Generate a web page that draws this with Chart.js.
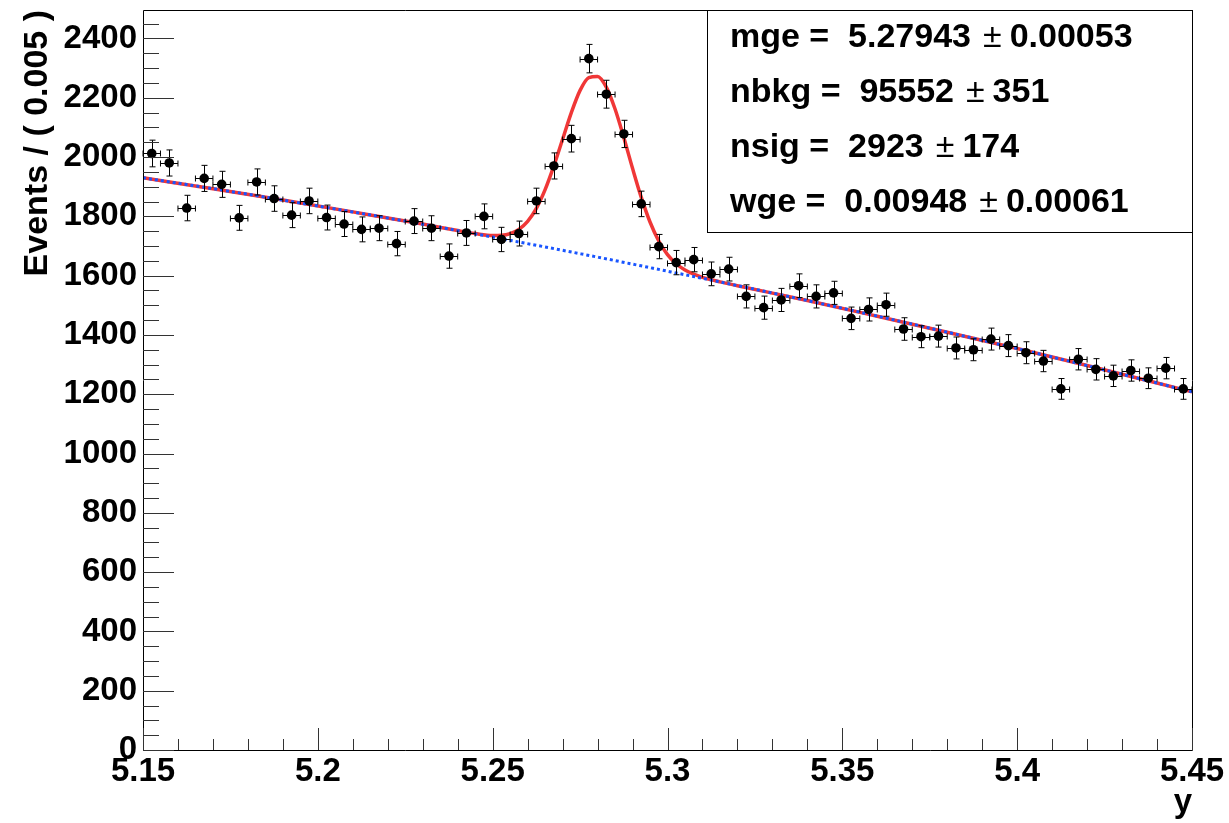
<!DOCTYPE html>
<html><head><meta charset="utf-8">
<script src="https://cdn.jsdelivr.net/npm/chart.js@4.4.1/dist/chart.umd.min.js"></script>
<style>html,body{margin:0;padding:0;background:#fff;overflow:hidden}</style>
</head><body>
<canvas id="c" width="1229" height="823" style="display:block"></canvas>
<script>
// ---- data ----
const binCenters = [
 5.1525,5.1575,5.1625,5.1675,5.1725,5.1775,5.1825,5.1875,5.1925,5.1975,
 5.2025,5.2075,5.2125,5.2175,5.2225,5.2275,5.2325,5.2375,5.2425,5.2475,
 5.2525,5.2575,5.2625,5.2675,5.2725,5.2775,5.2825,5.2875,5.2925,5.2975,
 5.3025,5.3075,5.3125,5.3175,5.3225,5.3275,5.3325,5.3375,5.3425,5.3475,
 5.3525,5.3575,5.3625,5.3675,5.3725,5.3775,5.3825,5.3875,5.3925,5.3975,
 5.4025,5.4075,5.4125,5.4175,5.4225,5.4275,5.4325,5.4375,5.4425,5.4475];
const counts = [
 2012,1980,1828,1928,1908,1795,1916,1860,1804,1852,
 1796,1774,1756,1760,1708,1784,1760,1666,1744,1800,
 1722,1742,1852,1970,2062,2332,2212,2078,1842,1698,
 1644,1654,1606,1622,1530,1492,1518,1566,1530,1542,
 1456,1486,1502,1420,1394,1396,1356,1350,1386,1364,
 1340,1312,1218,1318,1284,1262,1280,1254,1288,1218];
const errors = [
 45,44,43,44,44,42,44,43,42,43,
 42,42,42,42,41,42,42,41,42,42,
 41,42,43,44,45,48,47,46,43,41,
 41,41,40,40,39,39,39,40,39,39,
 38,39,39,38,37,37,37,37,37,37,
 37,36,35,36,36,36,36,35,36,35];
const fitX = [5.15,5.17,5.19,5.21,5.23,5.24,5.245,5.25,5.2525,5.255,5.2575,5.26,5.2625,5.265,5.2675,
 5.27,5.2725,5.275,5.2775,5.28,5.2825,5.285,5.2875,5.29,5.2925,5.295,5.2975,5.30,5.3025,5.305,
 5.3075,5.31,5.315,5.32,5.34,5.36,5.38,5.40,5.42,5.44,5.45];
const fitY = [1930,1893,1855,1815,1774,1752,1742,1735,1736,1742,1756,1783,1827,1890,1970,
 2060,2150,2225,2268,2272,2236,2162,2066,1962,1864,1781,1717,1671,1640,1619,
 1605,1594,1579,1566,1516,1463,1409,1354,1297,1238,1208];
const bkgX = [5.15,5.175,5.2,5.225,5.25,5.275,5.3,5.325,5.35,5.375,5.4,5.425,5.45];
const bkgY = [1930,1884,1835,1784,1730,1674,1615,1554,1490,1423,1354,1282,1208];
const xTickValues = [5.15,5.2,5.25,5.3,5.35,5.4,5.45];
const xTickLabels = ['5.15','5.2','5.25','5.3','5.35','5.4','5.45'];
const yTickValues = [0,200,400,600,800,1000,1200,1400,1600,1800,2000,2200,2400];
const yTickLabels = ['0','200','400','600','800','1000','1200','1400','1600','1800','2000','2200','2400'];
const statNames = ['mge =  5.27943', 'nbkg =  95552', 'nsig =  2923', 'wge =  0.00948'];
const statErrs = ['0.00053', '351', '174', '0.00061'];
const halfBin = 0.0025;

const FONT = '"Liberation Sans", Arial, Helvetica, sans-serif';

const rootStyle = {
  id: 'rootStyle',
  afterDatasetsDraw(chart) {
    const {ctx, chartArea: a, scales: {x, y}} = chart;
    ctx.save();
    ctx.strokeStyle = '#000';
    ctx.lineWidth = 1;
    // error bars
    for (let i = 0; i < binCenters.length; i++) {
      const px = Math.round(x.getPixelForValue(binCenters[i])) + 0.5;
      const py = Math.round(y.getPixelForValue(counts[i])) + 0.5;
      const yl = y.getPixelForValue(counts[i] - errors[i]);
      const yh = y.getPixelForValue(counts[i] + errors[i]);
      const xl = x.getPixelForValue(binCenters[i] - halfBin);
      const xh = x.getPixelForValue(binCenters[i] + halfBin);
      ctx.beginPath();
      ctx.moveTo(px, yl); ctx.lineTo(px, yh);
      ctx.moveTo(xl, py); ctx.lineTo(xh, py);
      ctx.moveTo(px - 3, yl); ctx.lineTo(px + 3, yl);
      ctx.moveTo(px - 3, yh); ctx.lineTo(px + 3, yh);
      ctx.moveTo(xl, py - 3); ctx.lineTo(xl, py + 3);
      ctx.moveTo(xh, py - 3); ctx.lineTo(xh, py + 3);
      ctx.stroke();
    }
    // frame
    ctx.beginPath();
    ctx.rect(Math.round(a.left) + 0.5, Math.round(a.top) + 0.5, Math.round(a.right - a.left), Math.round(a.bottom - a.top));
    ctx.stroke();
    // inward ticks, y
    ctx.strokeStyle = '#333';
    ctx.beginPath();
    for (let k = 0; k * 50 <= y.max; k++) {
      const py = Math.round(y.getPixelForValue(k * 50)) + 0.5;
      const len = (k % 4 === 0) ? 31 : 16;
      ctx.moveTo(a.left, py); ctx.lineTo(a.left + len, py);
    }
    // inward ticks, x
    for (let k = 0; k <= 30; k++) {
      const px = Math.round(x.getPixelForValue(5.15 + k * 0.01)) + 0.5;
      const len = (k % 5 === 0) ? 22 : 11;
      ctx.moveTo(px, a.bottom); ctx.lineTo(px, a.bottom - len);
    }
    ctx.stroke();
    // stat box
    const bx = 707.5, by = Math.round(a.top) + 0.5, bw = Math.round(a.right) - 707, bh = 222;
    ctx.fillStyle = '#fff';
    ctx.fillRect(bx, by, bw, bh);
    ctx.strokeStyle = '#000';
    ctx.strokeRect(bx, by, bw, bh);
    ctx.fillStyle = '#000';
    ctx.textBaseline = 'middle';
    ctx.textAlign = 'left';
    const bold = 'bold 34px ' + FONT, normal = '34px ' + FONT;
    statNames.forEach((s, i) => {
      const ty = by + 27 + i * 55;
      ctx.font = bold;
      ctx.fillText(s, 730, ty);
      let tx = 730 + ctx.measureText(s).width + 12;
      ctx.font = normal;
      ctx.fillText('\u00B1', tx, ty);
      tx += ctx.measureText('\u00B1').width + 8;
      ctx.font = bold;
      ctx.fillText(statErrs[i], tx, ty);
    });
    ctx.restore();
  }
};

new Chart(document.getElementById('c'), {
  type: 'scatter',
  data: {
    datasets: [
      { label: 'data', data: binCenters.map((v, i) => ({x: v, y: counts[i]})),
        backgroundColor: '#000', borderColor: '#000', pointRadius: 4.8, pointHoverRadius: 4.8,
        borderWidth: 0, showLine: false },
      { label: 'bkg', data: bkgX.map((v, i) => ({x: v, y: bkgY[i]})), showLine: true,
        borderColor: 'rgb(25,85,255)', borderWidth: 3, borderDash: [3, 3], pointRadius: 0,
        cubicInterpolationMode: 'monotone', fill: false },
      { label: 'fit', data: fitX.map((v, i) => ({x: v, y: fitY[i]})), showLine: true,
        borderColor: 'rgb(240,55,55)', borderWidth: 3.5, pointRadius: 0,
        cubicInterpolationMode: 'monotone', fill: false }
    ]
  },
  options: {
    responsive: false, animation: false, devicePixelRatio: 1,
    layout: { padding: { top: 10, right: 37, bottom: 0, left: 0 } },
    plugins: { legend: { display: false }, tooltip: { enabled: false } },
    scales: {
      x: {
        type: 'linear', min: 5.15, max: 5.45,
        grid: { display: false, drawTicks: false }, border: { display: false },
        ticks: { color: '#000', font: { family: FONT, size: 33, weight: 'bold' }, padding: 2,
                 autoSkip: false, maxRotation: 0, minRotation: 0,
                 callback: (v, i) => xTickLabels[i] },
        title: { display: true, text: 'y', align: 'end', color: '#000',
                 font: { family: FONT, size: 33, weight: 'bold' }, padding: 0 },
        afterBuildTicks: s => { s.ticks = xTickValues.map(v => ({value: v})); },
        afterFit: s => { s.height = 73; s.paddingLeft = 0; s.paddingRight = 0; }
      },
      y: {
        type: 'linear', min: 0, max: 2496,
        grid: { display: false, drawTicks: false }, border: { display: false },
        ticks: { color: '#000', font: { family: FONT, size: 33, weight: 'bold' }, padding: 6,
                 autoSkip: false, callback: (v, i) => yTickLabels[i] },
        title: { display: true, text: 'Events / ( 0.005 )', align: 'end', color: '#000',
                 font: { family: FONT, size: 34, weight: 'bold' }, padding: { top: 17, bottom: 0 } },
        afterBuildTicks: s => { s.ticks = yTickValues.map(v => ({value: v})); },
        afterFit: s => { s.width = 143; s.paddingTop = 0; s.paddingBottom = 0; }
      }
    }
  },
  plugins: [rootStyle]
});
</script>
</body></html>
